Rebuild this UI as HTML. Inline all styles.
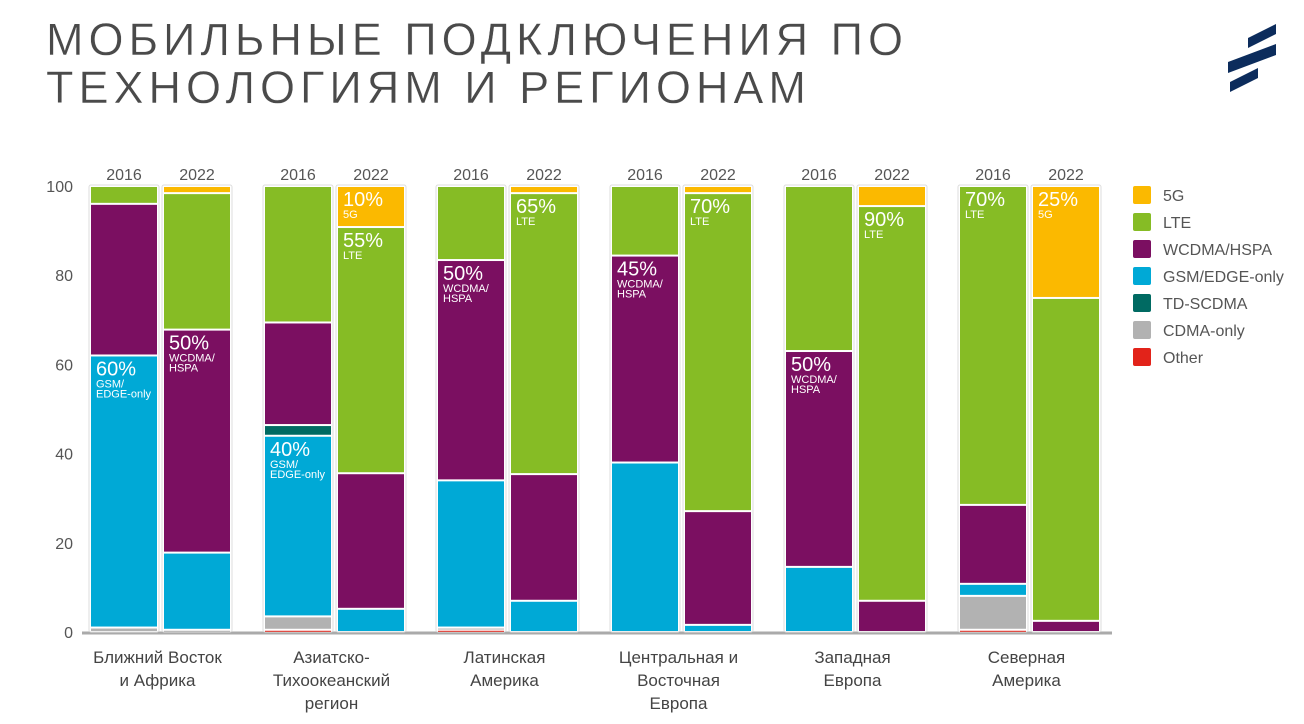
<!DOCTYPE html>
<html><head><meta charset="utf-8"><style>
body{margin:0;background:#fff;width:1304px;height:724px;overflow:hidden;font-family:"Liberation Sans","DejaVu Sans",sans-serif}
#title{position:absolute;left:46px;top:16px;font-size:45px;line-height:48px;color:#4a4a4a;letter-spacing:5px;font-weight:normal;-webkit-text-stroke:0.4px #fff}
</style></head><body>
<div id="title">МОБИЛЬНЫЕ ПОДКЛЮЧЕНИЯ ПО<br>ТЕХНОЛОГИЯМ И РЕГИОНАМ</div>
<svg width="1304" height="724" style="position:absolute;left:0;top:0" id="svg">
<g fill="#0c2c5c">
<polygon points="1248,38 1276,24 1276,34 1248,48"/>
<polygon points="1228,62 1276,44 1276,55 1228,73"/>
<polygon points="1230,82 1258,68 1258,78 1230,92"/>
</g>
</svg>
<script>
const techs=["Other","CDMA-only","TD-SCDMA","GSM/EDGE-only","WCDMA/HSPA","LTE","5G"];
const colors=["#e2231a","#b2b2b2","#006a62","#00a9d6","#7b0f61","#86bc25","#fbb900"];
const regions=[["Ближний Восток","и Африка"],["Азиатско-","Тихоокеанский","регион"],["Латинская","Америка"],["Центральная и","Восточная","Европа"],["Западная","Европа"],["Северная","Америка"]];
const years=["2016","2022"];
// values per bar: [other,cdma,tdscdma,gsm,wcdma,lte,5g]
const v2016=[[0,1,0,61,34,4,0],[0.5,3,2.4,40.5,23,30.6,0],[0.5,0.5,0,33,49.4,16.6,0],[0,0,0,38,46.4,15.6,0],[0,0,0,14.6,48.4,37,0],[0.5,7.6,0,2.7,17.7,71.5,0]];
const v2022=[[0,0.5,0,17.3,50,30.6,1.6],[0,0,0,5.2,30.4,55.2,9.2],[0,0,0,7,28.4,63,1.6],[0,0,0,1.6,25.5,71.3,1.6],[0,0,0,0,7,88.5,4.5],[0,0,0,0,2.5,72.4,25.1]];
const stackOrder=[0,1,3,2,4,5,6];
const yTicks=[0,20,40,60,80,100];
const annots=[[0,0,3,"60%","GSM/|EDGE-only"],[0,1,4,"50%","WCDMA/|HSPA"],[1,0,3,"40%","GSM/|EDGE-only"],[1,1,6,"10%","5G"],[1,1,5,"55%","LTE"],[2,0,4,"50%","WCDMA/|HSPA"],[2,1,5,"65%","LTE"],[3,0,4,"45%","WCDMA/|HSPA"],[3,1,5,"70%","LTE"],[4,0,4,"50%","WCDMA/|HSPA"],[4,1,5,"90%","LTE"],[5,0,5,"70%","LTE"],[5,1,6,"25%","5G"]];
const svg=document.getElementById('svg');const NS="http://www.w3.org/2000/svg";
const y=v=>632-v*4.46;
const gx=[90,264,437,611,785,959];const bw=68,gap=73;
function mk(t,a,p){const e=document.createElementNS(NS,t);for(const k in a)e.setAttribute(k,a[k]);(p||svg).appendChild(e);return e;}
function txt(x,yy,s,size,fill,anchor,p){const e=mk("text",{x:x,y:yy,"font-size":size,fill:fill,"text-anchor":anchor||"start"},p);e.textContent=s;return e;}
yTicks.forEach(t=>{const e=txt(73,y(t)+6,String(t),16,"#555","end");

});
const ax=mk("line",{x1:82,x2:1112,y1:633,y2:633,stroke:"#aaa","stroke-width":3});


const barX=(r,yi)=>gx[r]+yi*gap;
regions.forEach((reg,r)=>{
 [v2016,v2022].forEach((vals,yi)=>{
  const x=barX(r,yi);const g=mk("g",{});
  
  
  const top=vals[r].reduce((a,b)=>a+b,0);
  mk("rect",{x:x-1,y:y(top)-1,width:bw+2,height:y(0)-y(top)+1,fill:"#fff",stroke:"#ddd","stroke-width":1,rx:2},g);
  let c=0;stackOrder.forEach(i=>{const v=vals[r][i];if(v<=0)return;const y1=y(c+v),y0=y(c);
   const s=mk("rect",{x:x+1,y:y1+1,width:bw-2,height:Math.max(1,y0-y1-2),fill:colors[i]},g);
   
   
   c+=v;});
  const yl=txt(x+bw/2,180,years[yi],16,"#555","middle");
  
  
 });
 const cx=gx[r]+(bw+gap)/2-3;
 reg.forEach((l,i)=>{const e=txt(cx,663+i*23,l,17,"#444","middle");
  
  });
});
annots.forEach(a=>{const vals=(a[1]?v2022:v2016)[a[0]];let c=0;
 for(const i of stackOrder){c+=vals[i];if(i===a[2])break;}
 const x=barX(a[0],a[1])+6,t=y(c)+20;
 const b=txt(x,t,a[3],20,"#fff");
 
 
 a[4].split("|").forEach((s,i)=>{const e=txt(x,t+12+i*10,s,11,"#fff");
  
  });
});
const lg=[6,5,4,3,2,1,0];
lg.forEach((ti,k)=>{const yy=195+k*27;
 const sw=mk("rect",{x:1133,y:yy-9,width:18,height:18,fill:colors[ti],rx:2});
 
 
 const e=txt(1163,yy+6,techs[ti],16,"#555");
 
 });
</script>
</body></html>
